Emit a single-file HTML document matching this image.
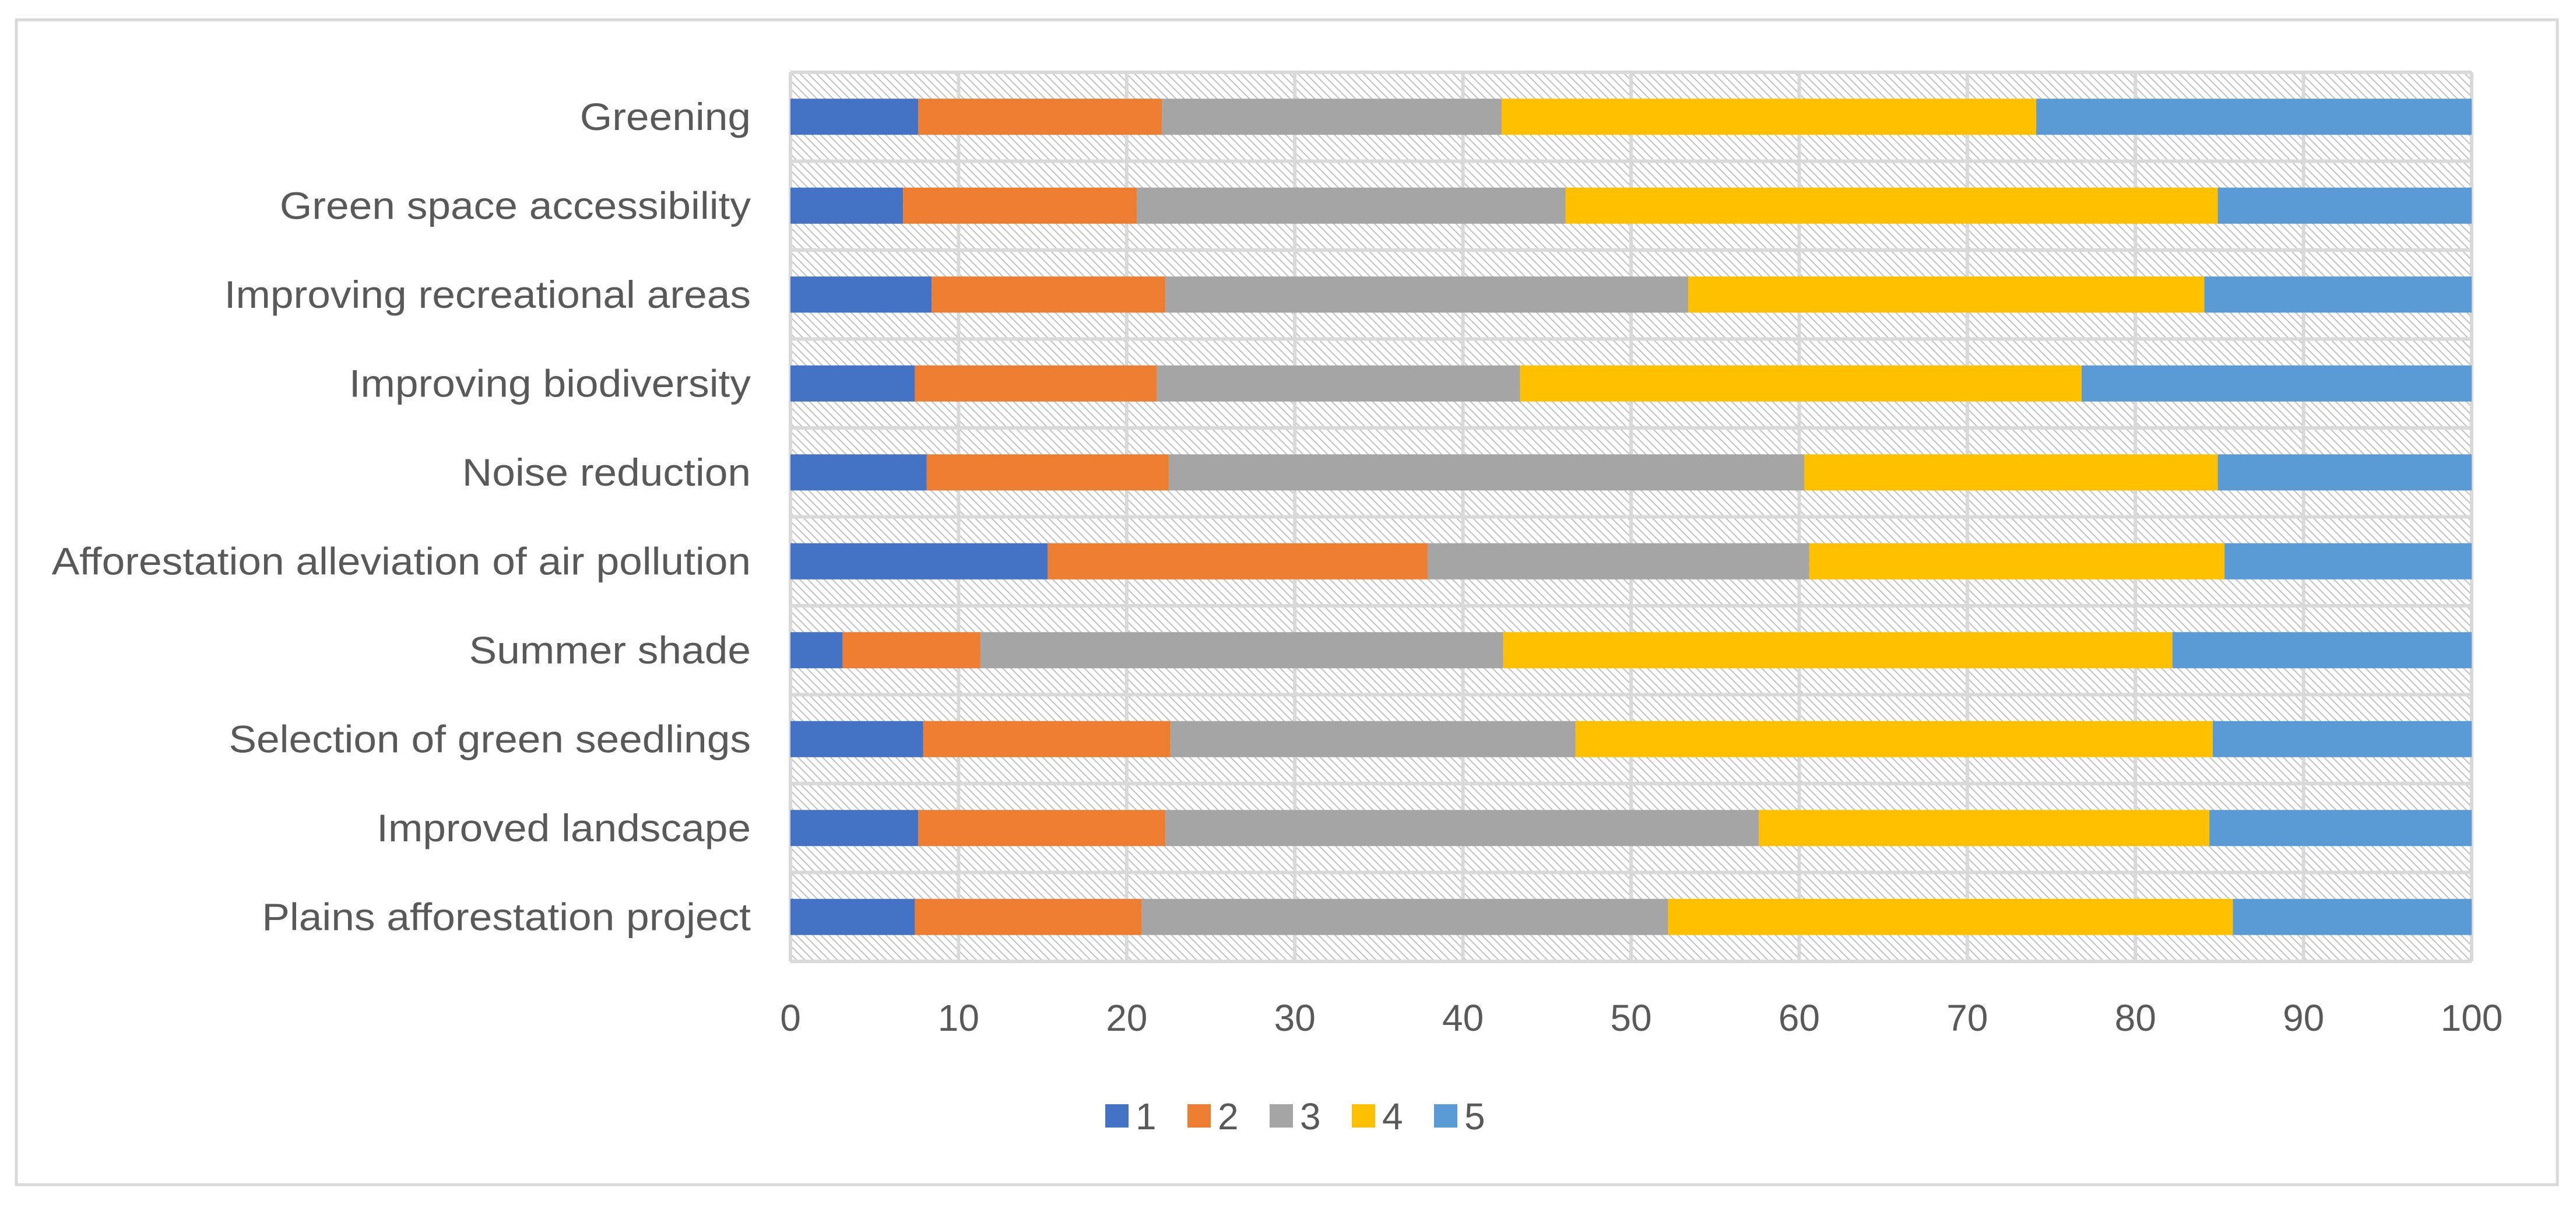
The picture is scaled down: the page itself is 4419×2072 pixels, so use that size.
<!DOCTYPE html>
<html><head><meta charset="utf-8"><style>html,body{margin:0;padding:0;background:#fff}svg{display:block}</style></head>
<body>
<svg id="chart" xmlns="http://www.w3.org/2000/svg" width="4419" height="2072" viewBox="0 0 4419 2072" font-family="Liberation Sans, sans-serif">
<defs>
<pattern id="hatch" patternUnits="userSpaceOnUse" width="14" height="14">
<rect width="14" height="14" fill="#fff"/>
<path d="M-2,-2 L16,16 M-2,12 L2,16 M12,-2 L16,2" stroke="#c4c4c4" stroke-width="2.2"/>
</pattern>
</defs>
<rect x="28" y="34" width="4359" height="1998" fill="#fff" stroke="#d9d9d9" stroke-width="5"/>
<g id="plot"></g>
<g id="labels" transform="translate(1288,0) scale(1.08,1) translate(-1288,0)"></g>
<g id="legend"></g>
</svg>
<script>
const categories = ["Greening","Green space accessibility","Improving recreational areas","Improving biodiversity","Noise reduction","Afforestation alleviation of air pollution","Summer shade","Selection of green seedlings","Improved landscape","Plains afforestation project"];
const s1 = [7.6, 6.7, 8.4, 7.4, 8.1, 15.3, 3.1, 7.9, 7.6, 7.4];
const s2 = [14.5, 13.9, 13.9, 14.4, 14.4, 22.6, 8.2, 14.7, 14.7, 13.5];
const s3 = [20.2, 25.5, 31.1, 21.6, 37.8, 22.7, 31.1, 24.1, 35.3, 31.3];
const s4 = [31.8, 38.8, 30.7, 33.4, 24.6, 24.7, 39.8, 37.9, 26.8, 33.6];
const s5 = [25.9, 15.1, 15.9, 23.2, 15.1, 14.7, 17.8, 15.4, 15.6, 14.2];
const seriesNames = ["1","2","3","4","5"];
const tickLabels = ["0","10","20","30","40","50","60","70","80","90","100"];
const colors = ["#4472c4","#ed7d31","#a5a5a5","#ffc000","#5b9bd5"];
const NS = "http://www.w3.org/2000/svg";
const X0 = 1356, X1 = 4240, Y0 = 124, Y1 = 1649;
const bandH = (Y1 - Y0) / categories.length, barH = 62;
function xs(v){ return X0 + (X1 - X0) * v / 100; }
function yc(i){ return Y0 + bandH * (i + 0.5); }
function mk(tag, attrs, parent){ const e = document.createElementNS(NS, tag); for (const k in attrs) e.setAttribute(k, attrs[k]); parent.appendChild(e); return e; }
const plot = document.getElementById('plot');
const labels = document.getElementById('labels');
const bg = mk('rect', {x:X0, y:Y0, width:X1-X0, height:Y1-Y0, fill:'url(#hatch)'}, plot);


for (let i = 0; i <= categories.length; i++) {
  const y = Y0 + bandH * i;
  const l = mk('line', {x1:X0, x2:X1, y1:y, y2:y, stroke:'#d9d9d9', 'stroke-width':6}, plot);
  
  
}
for (let t = 0; t < tickLabels.length; t++) {
  const x = xs(+tickLabels[t]);
  const g = mk('line', {x1:x, x2:x, y1:Y0, y2:Y1, stroke:'#d9d9d9', 'stroke-width':6}, plot);
  
  
  const tx = mk('text', {x:x, y:1768, 'text-anchor':'middle', 'font-size':64, fill:'#595959'}, plot);
  tx.textContent = tickLabels[t];
  
  
}
const series = [s1, s2, s3, s4, s5];
for (let i = 0; i < categories.length; i++) {
  let acc = 0;
  for (let s = 0; s < series.length; s++) {
    const v = series[s][i];
    const r = mk('rect', {x:xs(acc), y:yc(i) - barH/2, width:xs(acc+v) - xs(acc), height:barH, fill:colors[s]}, plot);
    
    
    acc += v;
  }
  const lab = mk('text', {x:1288, y:yc(i) + 23, 'text-anchor':'end', 'font-size':66, fill:'#595959'}, labels);
  lab.textContent = categories[i];
  
  
}
const legend = document.getElementById('legend');
for (let s = 0; s < seriesNames.length; s++) {
  const lx = 1896 + s * 141;
  const sq = mk('rect', {x:lx, y:1894, width:40, height:40, fill:colors[s]}, legend);
  
  
  const t = mk('text', {x:lx + 52, y:1937, 'font-size':64, fill:'#595959'}, legend);
  t.textContent = seriesNames[s];
  
  
}
</script>
</body></html>
